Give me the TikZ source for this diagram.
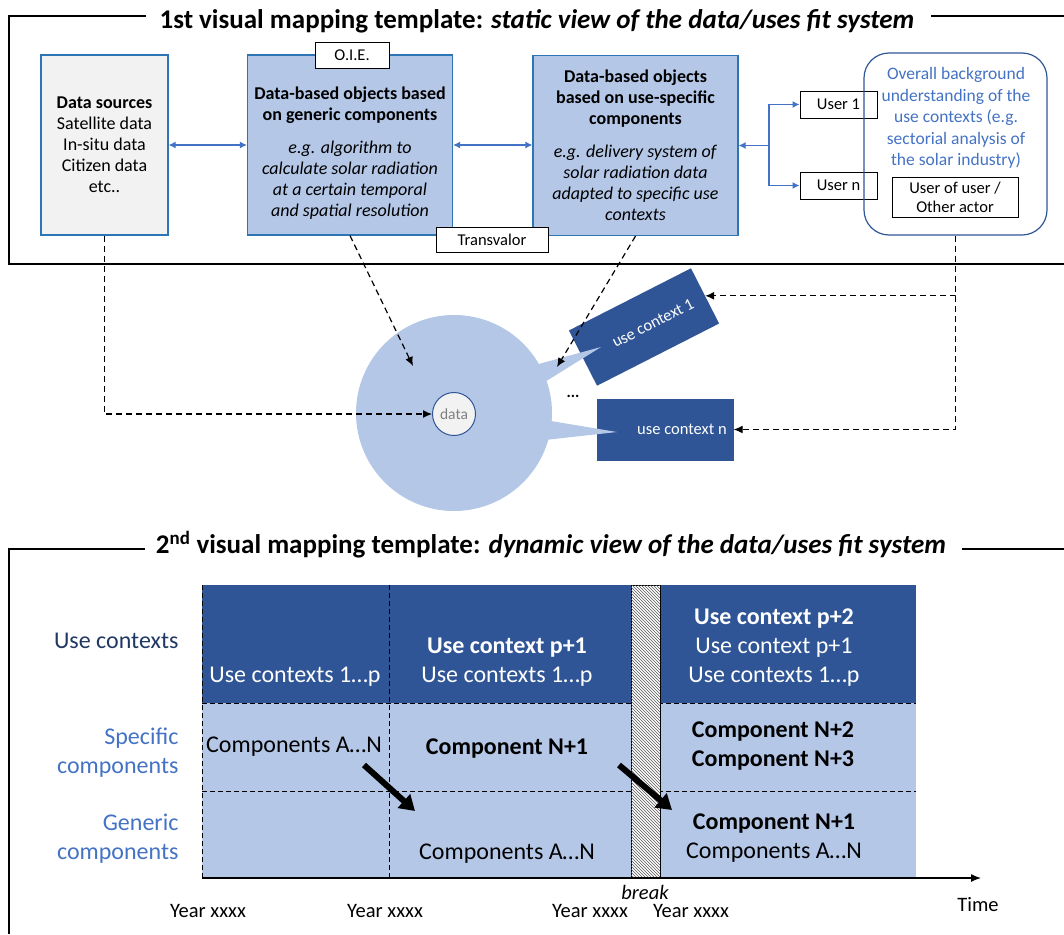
\documentclass[tikz,border=0pt]{standalone}
\usepackage{fontspec}
\setmainfont{Carlito}
\usetikzlibrary{arrows.meta,patterns}
\definecolor{ctxblue}{HTML}{2F5597}
\definecolor{objblue}{HTML}{B4C7E7}
\definecolor{linkblue}{HTML}{4472C4}
\definecolor{edgeblue}{HTML}{2E75B6}
\definecolor{rownavy}{HTML}{203864}
\definecolor{srcgray}{HTML}{F2F2F2}
\begin{document}
\begin{tikzpicture}[x=1pt, y=-1pt,
    framerule/.style ={line width=1.3pt},
    heading/.style ={font=\fontsize{27}{31}\selectfont\bfseries, inner sep=0pt},
    srcbox/.style ={rectangle, draw=edgeblue, line width=1.2pt, fill=srcgray, minimum width=127pt, minimum height=180pt, align=center, font=\fontsize{18}{21}\selectfont},
    objbox/.style ={rectangle, draw=edgeblue, line width=1.2pt, fill=objblue, minimum width=205pt, minimum height=180pt, align=center, font=\fontsize{18}{21}\selectfont},
    tagbox/.style ={rectangle, draw, line width=1pt, fill=white, minimum height=25pt, align=center, font=\fontsize{16.5}{19}\selectfont},
    link/.style ={linkblue, line width=1.2pt, >={Latex[length=7pt,width=7pt]}},
    dashlink/.style ={dash pattern=on 6pt off 4pt, line width=1.2pt, -{Latex[length=9pt,width=8pt]}},
    gridline/.style ={dash pattern=on 5pt off 3pt, line width=1pt},
    ctxbox/.style ={rectangle, fill=ctxblue, text=white, minimum width=137pt, minimum height=62pt, font=\fontsize{16.5}{19}\selectfont},
    rowlabel/.style ={align=right, anchor=east, text=linkblue, font=\fontsize{24}{29}\selectfont},
    cell/.style ={align=center, text=white, font=\fontsize{24}{29}\selectfont},
    year/.style ={font=\fontsize{20.5}{24}\selectfont},
    bigarrow/.style ={line width=6pt, -{Triangle[length=15pt,width=18pt]}}]
   \useasboundingbox (0,0) rectangle (1064,934);

   % 1st template
   \node[heading] (ttl1) at (537,21) {1st visual mapping template: \textit{static view of the data/uses fit system}};
   \draw[framerule] (146,16) -| (9,264) -- (1064,264);
   \draw[framerule] (931,16) -- (1064,16);

   \node[srcbox] (src) at (104.5,145) {\textbf{Data sources}\\Satellite data\\In-situ data\\Citizen data\\etc..};
   \node[objbox] (gen) at (350,145) {};
   \node[align=center, font=\fontsize{18}{21}\selectfont] (gentxt) at (350,153)
     {\textbf{Data-based objects based}\\\textbf{on generic components}\\[12pt]\textit{e.g. algorithm to}\\\textit{calculate solar radiation}\\\textit{at a certain temporal}\\\textit{and spatial resolution}};
   \node[objbox] (spc) at (635.5,145.5) {\textbf{Data-based objects}\\\textbf{based on use-specific}\\\textbf{components}\\[12pt]\textit{e.g. delivery system of}\\\textit{solar radiation data}\\\textit{adapted to specific use}\\\textit{contexts}};
   \node[tagbox, minimum width=74pt] (oie) at (352,55.5) {O.I.E.};
   \node[tagbox, minimum width=112pt] (trv) at (492,240) {Transvalor};

   \node[tagbox, minimum width=77pt, minimum height=27pt] (u1) at (838.5,104.5) {User 1};
   \node[tagbox, minimum width=77pt, minimum height=27pt] (un) at (838.5,185.5) {User n};
   \node[draw=ctxblue, line width=1.2pt, rounded corners=25pt, minimum width=183pt, minimum height=182pt] (bg) at (955.5,144) {};
   \node[align=center, text=linkblue, font=\fontsize{17.5}{21.5}\selectfont] (bgtxt) at (956,118)
     {Overall background\\understanding of the\\use contexts (e.g.\\sectorial analysis of\\the solar industry)};
   \node[tagbox, minimum width=126pt, minimum height=40pt] (uou) at (955,197) {User of user /\\Other actor};

   \coordinate (fork) at (769,145.5);
   \draw[link, <->] (src) -- (gen);
   \draw[link, <->] (gen.east) -- (spc.west |- gen.east);
   \draw[link, ->] (fork) -- (spc.east);
   \draw[link, ->] (fork) |- (u1);
   \draw[link, ->] (fork) |- (un);

   % use contexts bubble
   \node[circle, fill=objblue, minimum size=196pt] (bubble) at (454,413) {};
   \node[ctxbox, rotate=27] (ctx1) at (644,327) {};
   \node[text=white, rotate=27, font=\fontsize{16.5}{19}\selectfont] (ctx1txt) at (653,323) {use context 1};
   \node[ctxbox] (ctxn) at (665,429.5) {};
   \node[text=white, font=\fontsize{16.5}{19}\selectfont] (ctxntxt) at (682,429.5) {use context n};
   \fill[objblue] (535,365) -- (601,347) -- (540,385) -- cycle;
   \fill[objblue] (545,420) -- (617,432) -- (545,440) -- cycle;
   \node[circle, draw=ctxblue, line width=1pt, fill=srcgray, minimum size=43pt, inner sep=0pt, text=gray, font=\fontsize{15.5}{18}\selectfont] (data) at (454,414) {data};
   \node[font=\fontsize{16}{19}\selectfont\bfseries] (more) at (573,396) {...};

   \coordinate (genhit) at (413,366);
   \coordinate (spchit) at (557,367);
   \draw[dashlink] (src.south) |- (data);
   \draw[dashlink] (gen.south) -- (genhit);
   \draw[dashlink] (spc.south) -- (spchit);
   \draw[dashlink] (bg.south) |- (ctx1.east);
   \draw[dashlink] (bg.south) |- (ctxn);

   % 2nd template
   \node[heading] (ttl2) at (551,545) {2\textsuperscript{nd} visual mapping template: \textit{dynamic view of the data/uses fit system}};
   \draw[framerule] (145,549) -| (9,934);
   \draw[framerule] (962,549) -- (1064,549);

   \fill[ctxblue] (202,585) rectangle (916,703);
   \fill[objblue] (202,703) rectangle (916,878);
   \draw[gridline] (202,703) -- (916,703);
   \draw[gridline] (202,791) -- (916,791);
   \draw[gridline] (202,585) -- (202,878);
   \draw[gridline] (389,585) -- (389,878);
   \draw[line width=1pt, fill=white, postaction={pattern=north west lines, pattern color=gray!70!black}] (631,585) rectangle (660,878);

   \coordinate (axs) at (202,878);
   \coordinate (axe) at (981,878);
   \draw[line width=1.3pt, -{Latex[length=10pt,width=8pt]}] (axs) -- (axe);

   \node[rowlabel, text=rownavy] (lctx) at (182,641) {Use contexts};
   \node[rowlabel] (lspc) at (182,752.5) {Specific\\components};
   \node[rowlabel] (lgen) at (182,838.5) {Generic\\components};

   \node[cell] (c1top) at (295,677) {Use contexts 1…p};
   \node[cell] (c2top) at (507,662.5) {\textbf{Use context p+1}\\Use contexts 1…p};
   \node[cell] (c3top) at (774,648) {\textbf{Use context p+2}\\Use context p+1\\Use contexts 1…p};
   \node[cell, text=black] (c1mid) at (294,747) {Components A…N};
   \node[cell, text=black] (c2mid) at (507,749) {\textbf{Component N+1}};
   \node[cell, text=black] (c3mid) at (773,746.5) {\textbf{Component N+2}\\\textbf{Component N+3}};
   \node[cell, text=black] (c2bot) at (507,854) {Components A…N};
   \node[cell, text=black] (c3bot) at (774,838.5) {\textbf{Component N+1}\\Components A…N};

   \coordinate (a1s) at (364,765);
   \coordinate (a1e) at (415,811);
   \coordinate (a2s) at (619,765);
   \coordinate (a2e) at (672,810);
   \draw[bigarrow] (a1s) -- (a1e);
   \draw[bigarrow] (a2s) -- (a2e);

   \node[year, font=\fontsize{20.5}{24}\selectfont\itshape] (brk) at (645,892) {break};
   \node[year] (y1) at (208,911) {Year xxxx};
   \node[year] (y2) at (385,911) {Year xxxx};
   \node[year] (y3) at (590,911) {Year xxxx};
   \node[year] (y4) at (691,911) {Year xxxx};
   \node[year] (time) at (978,905) {Time};
 \end{tikzpicture}
\end{document}
